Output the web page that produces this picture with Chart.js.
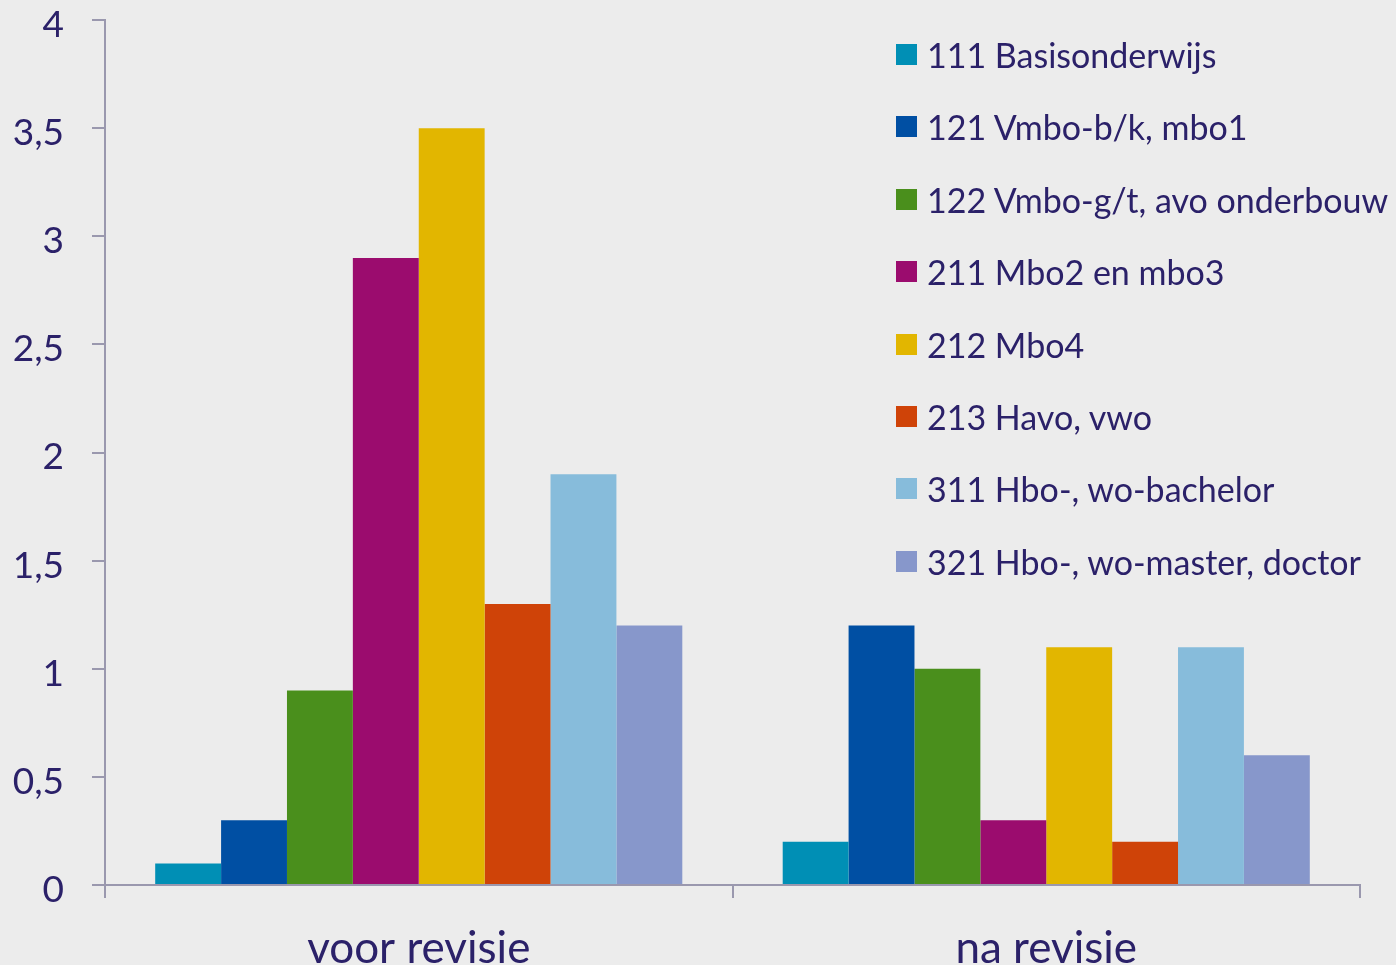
<!DOCTYPE html>
<html>
<head>
<meta charset="utf-8">
<script src="https://cdn.jsdelivr.net/npm/chart.js@4.4.0/dist/chart.umd.min.js"></script>
<style>
  html, body { margin: 0; padding: 0; background: #ececec; }
  #wrap { position: relative; width: 1396px; height: 965px; }
  #legenda { position: absolute; left: 896px; top: 34px; margin: 0; padding: 0; list-style: none;
    font-family: Lato, "Open Sans", sans-serif; font-size: 34px; color: #2b2169; }
  #legenda li { height: 72.4px; display: flex; align-items: flex-start; white-space: nowrap; }
  #legenda span.box { display: inline-block; width: 21px; height: 21px; margin: 10px 10px 0 0; }
</style>
</head>
<body>
<div id="wrap">
  <canvas id="grafico" width="1396" height="965"></canvas>
  <ul id="legenda"></ul>
</div>
<script>
const categorieen = ['voor revisie', 'na revisie'];
const reeksen = [
  '111 Basisonderwijs',
  '121 Vmbo-b/k, mbo1',
  '122 Vmbo-g/t, avo onderbouw',
  '211 Mbo2 en mbo3',
  '212 Mbo4',
  '213 Havo, vwo',
  '311 Hbo-, wo-bachelor',
  '321 Hbo-, wo-master, doctor'
];
const basisonderwijs = [0.1, 0.2];
const vmboBK = [0.3, 1.2];
const vmboGT = [0.9, 1.0];
const mbo23 = [2.9, 0.3];
const mbo4 = [3.5, 1.1];
const havoVwo = [1.3, 0.2];
const hboBachelor = [1.9, 1.1];
const hboMaster = [1.2, 0.6];
const kleuren = ['#008fb5', '#004fa3', '#4a8f1c', '#9b0c6e', '#e2b600', '#cf4308', '#87bcdb', '#8797cb'];

const waarden = [basisonderwijs, vmboBK, vmboGT, mbo23, mbo4, havoVwo, hboBachelor, hboMaster];
const tekstKleur = '#2b2169';
const asKleur = '#9a98ae';

const ctx = document.getElementById('grafico').getContext('2d');
const grafico = new Chart(ctx, {
  type: 'bar',
  data: {
    labels: categorieen,
    datasets: reeksen.map((naam, i) => ({
      label: naam,
      data: waarden[i],
      backgroundColor: kleuren[i],
      borderWidth: 0,
      categoryPercentage: 0.84,
      barPercentage: 1
    }))
  },
  options: {
    responsive: false,
    animation: false,
    locale: 'nl-NL',
    layout: { padding: { top: 0, right: 36, left: 0, bottom: 0 } },
    plugins: {
      legend: { display: false },
      tooltip: { enabled: false }
    },
    scales: {
      x: {
        grid: { drawOnChartArea: false, color: asKleur, tickLength: 13, lineWidth: 2 },
        border: { color: asKleur, width: 2 },
        ticks: { color: tekstKleur, padding: 24, font: { family: 'Lato', size: 44 } },
        afterFit: (scale) => { scale.height = 80; }
      },
      y: {
        min: 0,
        max: 4,
        ticks: {
          stepSize: 0.5,
          color: tekstKleur,
          padding: 28,
          labelOffset: 5,
          font: { family: 'Lato', size: 37, lineHeight: 1 },
          callback: (v) => String(v).replace('.', ',')
        },
        grid: { drawOnChartArea: false, color: asKleur, tickLength: 13, lineWidth: 2 },
        border: { color: asKleur, width: 2 },
        afterFit: (scale) => {
          scale.width = 105;
          scale.paddingTop = 20;
          scale.paddingBottom = 0;
        }
      }
    }
  }
});

const lijst = document.getElementById('legenda');
grafico.data.datasets.forEach((ds) => {
  const li = document.createElement('li');
  li.innerHTML = `<span class="box" style="background:${ds.backgroundColor}"></span>${ds.label}`;
  lijst.appendChild(li);
});
</script>
</body>
</html>
